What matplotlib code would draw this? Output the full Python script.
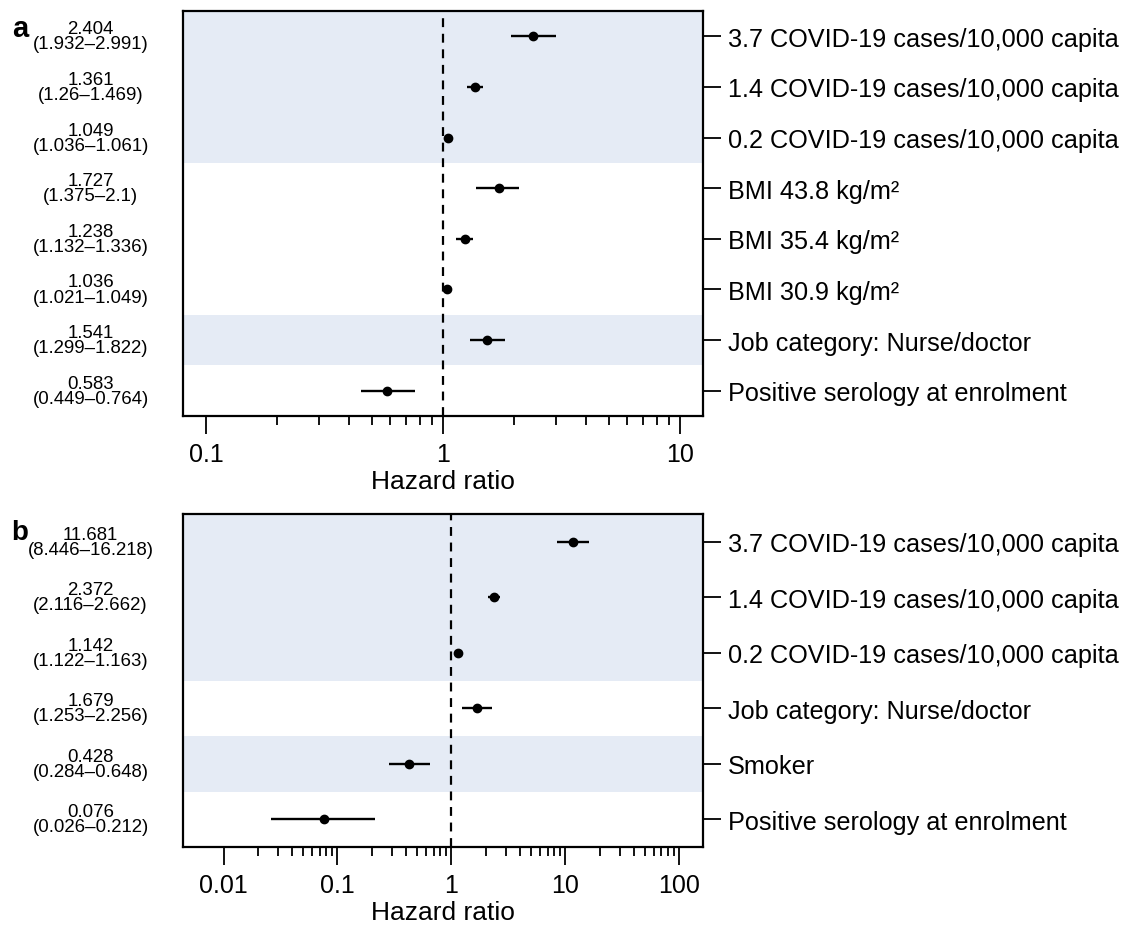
import matplotlib
matplotlib.use('Agg')
import matplotlib.pyplot as plt
import matplotlib.ticker as mticker
import matplotlib.transforms as mtrans
import numpy as np

plt.rcParams['font.family'] = ['Liberation Sans', 'DejaVu Sans']

# panel a (top to bottom)
labels_a = ['3.7 COVID-19 cases/10,000 capita', '1.4 COVID-19 cases/10,000 capita',
            '0.2 COVID-19 cases/10,000 capita', 'BMI 43.8 kg/m²', 'BMI 35.4 kg/m²',
            'BMI 30.9 kg/m²', 'Job category: Nurse/doctor', 'Positive serology at enrolment']
hr_a = [2.404, 1.361, 1.049, 1.727, 1.238, 1.036, 1.541, 0.583]
lo_a = [1.932, 1.26, 1.036, 1.375, 1.132, 1.021, 1.299, 0.449]
hi_a = [2.991, 1.469, 1.061, 2.1, 1.336, 1.049, 1.822, 0.764]
txt_hr_a = ['2.404', '1.361', '1.049', '1.727', '1.238', '1.036', '1.541', '0.583']
txt_lo_a = ['1.932', '1.26', '1.036', '1.375', '1.132', '1.021', '1.299', '0.449']
txt_hi_a = ['2.991', '1.469', '1.061', '2.1', '1.336', '1.049', '1.822', '0.764']
shade_a = [True, True, True, False, False, False, True, False]
ticks_a = [0.1, 1, 10]

# panel b (top to bottom)
labels_b = ['3.7 COVID-19 cases/10,000 capita', '1.4 COVID-19 cases/10,000 capita',
            '0.2 COVID-19 cases/10,000 capita', 'Job category: Nurse/doctor', 'Smoker',
            'Positive serology at enrolment']
hr_b = [11.681, 2.372, 1.142, 1.679, 0.428, 0.076]
lo_b = [8.446, 2.116, 1.122, 1.253, 0.284, 0.026]
hi_b = [16.218, 2.662, 1.163, 2.256, 0.648, 0.212]
txt_hr_b = ['11.681', '2.372', '1.142', '1.679', '0.428', '0.076']
txt_lo_b = ['8.446', '2.116', '1.122', '1.253', '0.284', '0.026']
txt_hi_b = ['16.218', '2.662', '1.163', '2.256', '0.648', '0.212']
shade_b = [True, True, True, False, True, False]
ticks_b = [0.01, 0.1, 1, 10, 100]

band = '#e5ebf5'

fig = plt.figure(figsize=(11.26, 9.28), dpi=100)
ax_a = fig.add_axes([0.1625, 0.5506, 0.4618, 0.4364])
ax_b = fig.add_axes([0.1625, 0.0862, 0.4618, 0.3588])


def forest(ax, labels, hr, lo, hi, thr, tlo, thi, shade, ticks, xlim):
    n = len(labels)
    y = np.arange(n, 0, -1)
    for yi, s in zip(y, shade):
        if s:
            ax.axhspan(yi - 0.5, yi + 0.5, color=band, lw=0, zorder=0)
    ax.axvline(1, color='black', ls=(0, (4, 3)), lw=1.6, zorder=1)
    ax.hlines(y, lo, hi, color='black', lw=1.7, zorder=2)
    ax.plot(hr, y, 'o', color='black', ms=6, zorder=3)

    ax.set_xscale('log')
    ax.set_xlim(*xlim)
    ax.set_ylim(0.5, n + 0.5)
    ax.xaxis.set_major_locator(mticker.FixedLocator(ticks))
    ax.xaxis.set_major_formatter(mticker.FixedFormatter(['%g' % t for t in ticks]))
    minor = [t * k for t in ticks[:-1] for k in range(2, 10)]
    ax.xaxis.set_minor_locator(mticker.FixedLocator(minor))
    ax.xaxis.set_minor_formatter(mticker.NullFormatter())
    ax.tick_params(axis='x', which='major', direction='out', length=13, width=1.3,
                   labelsize=18, pad=6)
    ax.tick_params(axis='x', which='minor', direction='out', length=6.5, width=1.3)
    ax.set_xlabel('Hazard ratio', fontsize=19, labelpad=2)

    ax.yaxis.tick_right()
    ax.set_yticks(y)
    ax.set_yticklabels(labels)
    ax.tick_params(axis='y', direction='out', length=13, width=1.3, labelsize=18.2, pad=5)
    for sp in ax.spines.values():
        sp.set_linewidth(1.6)

    tr = mtrans.blended_transform_factory(fig.transFigure, ax.transData)
    for yi, a, b, c in zip(y, thr, tlo, thi):
        ax.text(0.0805, yi, '%s\n(%s–%s)' % (a, b, c), transform=tr, ha='center', va='center',
                fontsize=13.4, linespacing=0.85)


forest(ax_a, labels_a, hr_a, lo_a, hi_a, txt_hr_a, txt_lo_a, txt_hi_a, shade_a, ticks_a,
       (0.08, 12.5))
forest(ax_b, labels_b, hr_b, lo_b, hi_b, txt_hr_b, txt_lo_b, txt_hi_b, shade_b, ticks_b,
       (0.0044, 162))

fig.text(12 / 1126, 1 - 37 / 928, 'a', fontsize=21, fontweight='bold', va='baseline')
fig.text(11 / 1126, 1 - 540 / 928, 'b', fontsize=20, fontweight='bold', va='baseline')

fig.savefig('out.png', dpi=100)
